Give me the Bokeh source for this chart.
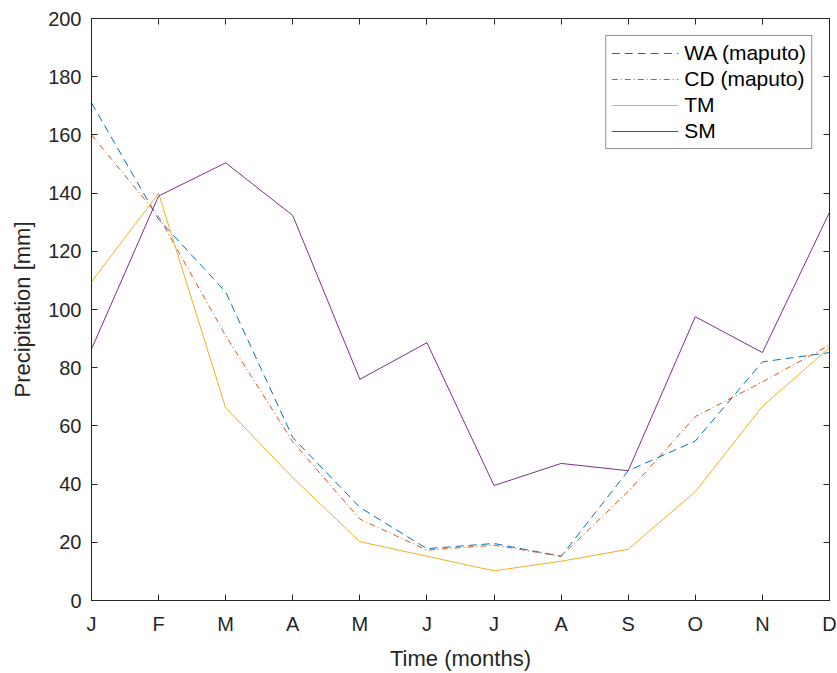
from bokeh.plotting import figure
from bokeh.models import FixedTicker, LinearAxis, Range1d, Legend, LegendItem
from bokeh.embed import file_html
from bokeh.resources import INLINE

months = ["J", "F", "M", "A", "M", "J", "J", "A", "S", "O", "N", "D"]
month_idx = list(range(12))
wa_maputo = [171, 131, 106, 56, 32, 17.8, 19.6, 15.2, 44.6, 54.8, 82, 85.2]
cd_maputo = [160, 132, 91, 54.5, 28, 17.3, 19.0, 15.2, 37.5, 63.2, 75.1, 87.8]
tm = [109.5, 139.9, 66.2, 42.2, 20.2, 15.2, 10.2, 13.5, 17.6, 37.4, 66.7, 86.9]
sm = [86.4, 139, 150.4, 132.3, 76, 88.6, 39.5, 47.1, 44.6, 97.5, 85.2, 133.4]
y_ticks = list(range(0, 201, 20))

FONT = "Liberation Sans"
TXT = "#262626"

p = figure(width=837, height=673, output_backend="svg", toolbar_location=None,
           x_range=Range1d(0, 11), y_range=Range1d(0, 200),
           min_border_left=91, min_border_right=8, min_border_top=18, min_border_bottom=72)
p.outline_line_color = TXT
p.outline_line_width = 1
p.xgrid.visible = False
p.ygrid.visible = False
p.background_fill_color = "white"

r1 = p.line(month_idx, wa_maputo, line_color="#0072BD", line_width=1, line_dash="8 5")
r2 = p.line(month_idx, cd_maputo, line_color="#D95319", line_width=1, line_dash="6 3 1 3")
r3 = p.line(month_idx, tm, line_color="#EDB120", line_width=1)
r4 = p.line(month_idx, sm, line_color="#7E2F8E", line_width=1)

def style(ax, labels=True):
    ax.major_tick_in = 6
    ax.major_tick_out = 0
    ax.minor_tick_in = 0
    ax.minor_tick_out = 0
    ax.axis_line_color = TXT
    ax.major_tick_line_color = TXT
    ax.major_label_text_font = FONT
    ax.major_label_text_font_size = "20px"
    ax.major_label_text_color = TXT
    ax.axis_label_text_font = FONT
    ax.axis_label_text_font_size = "22px"
    ax.axis_label_text_font_style = "normal"
    ax.axis_label_text_color = TXT
    if not labels:
        ax.major_label_text_font_size = "0px"
        ax.major_label_text_alpha = 0

xt = FixedTicker(ticks=month_idx)
yt = FixedTicker(ticks=y_ticks)
overrides = {i: m for i, m in enumerate(months)}

p.xaxis.ticker = xt
p.xaxis.major_label_overrides = overrides
p.xaxis.axis_label = "Time (months)"
p.xaxis.major_label_standoff = 12
p.xaxis.axis_label_standoff = 8
p.yaxis.ticker = yt
p.yaxis.axis_label = "Precipitation [mm]"
p.yaxis.major_label_standoff = 10
p.yaxis.axis_label_standoff = 10
style(p.xaxis[0])
style(p.yaxis[0])

top = LinearAxis(ticker=FixedTicker(ticks=month_idx))
style(top, labels=False)
p.add_layout(top, "above")
right = LinearAxis(ticker=FixedTicker(ticks=y_ticks))
style(right, labels=False)
p.add_layout(right, "right")

legend = Legend(items=[
    LegendItem(label="WA (maputo)", renderers=[r1]),
    LegendItem(label="CD (maputo)", renderers=[r2]),
    LegendItem(label="TM", renderers=[r3]),
    LegendItem(label="SM", renderers=[r4]),
], location="top_right")
legend.label_text_font = FONT
legend.label_text_font_size = "21px"
legend.label_text_color = "black"
legend.glyph_width = 67
legend.glyph_height = 20
legend.label_height = 20
legend.spacing = 2
legend.padding = 5
legend.margin = 17
legend.label_standoff = 6
legend.border_line_color = TXT
legend.border_line_width = 1
legend.background_fill_alpha = 1
p.add_layout(legend, "center")

open("out.html", "w").write(file_html(p, INLINE))
